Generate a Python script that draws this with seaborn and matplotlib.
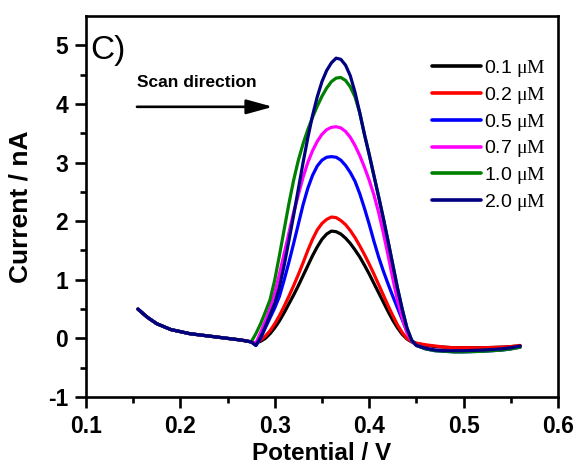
import matplotlib
matplotlib.use("Agg")
import matplotlib.pyplot as plt
import pandas as pd
import seaborn as sns

# Differential pulse voltammograms: potential (V) vs current (nA)
potential = [0.155, 0.165, 0.175, 0.19, 0.21, 0.23, 0.25, 0.265, 0.275,
             0.28, 0.285, 0.29, 0.295, 0.30, 0.305, 0.31, 0.315, 0.32, 0.325,
             0.33, 0.335, 0.34, 0.345, 0.35, 0.355, 0.36, 0.365, 0.37, 0.375,
             0.38, 0.385, 0.39, 0.395, 0.40, 0.405, 0.41, 0.415, 0.42, 0.425,
             0.43, 0.435, 0.44, 0.445, 0.45,
             0.46, 0.47, 0.48, 0.49, 0.50, 0.52, 0.54, 0.55, 0.56]

# shared pre-peak background
baseline = [0.50, 0.36, 0.25, 0.15, 0.08, 0.04, 0.0, -0.03, -0.06]

current_0_1 = baseline + [
    -0.08, -0.05, 0.00, 0.08, 0.18, 0.30, 0.44, 0.59, 0.74, 0.90,
    1.07, 1.24, 1.41, 1.56, 1.69, 1.78, 1.83, 1.82, 1.78, 1.71,
    1.62, 1.51, 1.39, 1.25, 1.10, 0.94, 0.78, 0.62, 0.46, 0.31,
    0.18, 0.07, -0.01, -0.06, -0.09,
    -0.12, -0.14, -0.15, -0.16, -0.16, -0.16, -0.15, -0.14, -0.13]
current_0_2 = baseline + [
    -0.08, -0.03, 0.04, 0.13, 0.25, 0.39, 0.55, 0.72, 0.90, 1.09,
    1.29, 1.50, 1.69, 1.85, 1.96, 2.03, 2.07, 2.06, 2.01, 1.94,
    1.84, 1.72, 1.58, 1.43, 1.27, 1.10, 0.92, 0.74, 0.56, 0.39,
    0.23, 0.10, 0.00, -0.05, -0.08,
    -0.11, -0.13, -0.15, -0.16, -0.16, -0.16, -0.15, -0.14, -0.12]
current_0_5 = baseline + [
    -0.12, 0.00, 0.18, 0.35, 0.52, 0.72, 1.00, 1.30, 1.62, 1.95,
    2.28, 2.56, 2.78, 2.94, 3.04, 3.09, 3.10, 3.09, 3.04, 2.95,
    2.83, 2.68, 2.47, 2.22, 1.95, 1.66, 1.39, 1.15, 0.93, 0.72,
    0.52, 0.32, 0.12, -0.04, -0.12,
    -0.18, -0.21, -0.22, -0.23, -0.23, -0.22, -0.20, -0.18, -0.15]
current_0_7 = baseline + [
    -0.08, 0.10, 0.30, 0.52, 0.78, 1.10, 1.45, 1.80, 2.15, 2.45,
    2.75, 3.00, 3.20, 3.36, 3.48, 3.56, 3.60, 3.61, 3.59, 3.53,
    3.43, 3.29, 3.12, 2.92, 2.70, 2.45, 2.15, 1.80, 1.42, 1.02,
    0.65, 0.35, 0.10, -0.05, -0.12,
    -0.17, -0.20, -0.21, -0.22, -0.22, -0.21, -0.19, -0.17, -0.14]
current_1_0 = baseline + [
    0.08, 0.25, 0.45, 0.66, 1.00, 1.42, 1.86, 2.30, 2.70, 3.04,
    3.32, 3.56, 3.77, 3.96, 4.13, 4.27, 4.38, 4.44, 4.45, 4.40,
    4.29, 4.12, 3.85, 3.48, 3.14, 2.78, 2.42, 2.05, 1.66, 1.26,
    0.86, 0.50, 0.18, -0.03, -0.12,
    -0.18, -0.21, -0.22, -0.23, -0.23, -0.22, -0.20, -0.18, -0.15]
current_2_0 = baseline + [
    -0.12, 0.02, 0.20, 0.40, 0.60, 0.88, 1.25, 1.67, 2.10, 2.55,
    3.00, 3.42, 3.80, 4.12, 4.38, 4.57, 4.70, 4.78, 4.76, 4.66,
    4.48, 4.20, 3.85, 3.48, 3.14, 2.78, 2.42, 2.05, 1.66, 1.26,
    0.86, 0.50, 0.18, -0.03, -0.12,
    -0.17, -0.20, -0.21, -0.21, -0.21, -0.20, -0.18, -0.16, -0.13]

concentrations = ["0.1", "0.2", "0.5", "0.7", "1.0", "2.0"]
series = [current_0_1, current_0_2, current_0_5, current_0_7, current_1_0, current_2_0]
line_colors = ["#000000", "#ff0000", "#0000ff", "#ff00ff", "#008000", "#000080"]

xtick_values = [0.1, 0.2, 0.3, 0.4, 0.5, 0.6]
xtick_labels = ["0.1", "0.2", "0.3", "0.4", "0.5", "0.6"]
ytick_values = [-1, 0, 1, 2, 3, 4, 5]
ytick_labels = ["-1", "0", "1", "2", "3", "4", "5"]

sns.set_theme(style="ticks")
plt.rcParams.update({
    "font.family": ["Liberation Sans", "DejaVu Sans"],
    "mathtext.fontset": "custom",
    "mathtext.rm": "Liberation Serif",
    "mathtext.it": "Liberation Serif:italic",
    "mathtext.bf": "Liberation Serif:bold",
    "axes.unicode_minus": False,
    "axes.edgecolor": "black",
    "axes.labelcolor": "black",
    "text.color": "black",
    "axes.linewidth": 1.9,
    "xtick.color": "black",
    "ytick.color": "black",
    "xtick.labelcolor": "black",
    "ytick.labelcolor": "black",
})

rows = []
for conc, values in zip(concentrations, series):
    label = conc + r" $\mathrm{μM}$"
    for v, i in zip(potential, values):
        rows.append({"Potential": v, "Current": i, "Concentration": label})
df = pd.DataFrame(rows)

fig = plt.figure(figsize=(5.83, 4.69), dpi=100)
ax = fig.add_axes([0.1475, 0.1535, 0.8095, 0.8125])

sns.lineplot(data=df, x="Potential", y="Current", hue="Concentration",
             palette=line_colors, sort=False, estimator=None,
             linewidth=2.3, ax=ax)

ax.set_xlim(0.1, 0.6)
ax.set_ylim(-1, 5.5)
ax.set_xticks(xtick_values)
ax.set_xticklabels(xtick_labels)
ax.set_yticks(ytick_values)
ax.set_yticklabels(ytick_labels)
ax.set_xticks([0.15, 0.25, 0.35, 0.45, 0.55], minor=True)
ax.set_yticks([-0.5, 0.5, 1.5, 2.5, 3.5, 4.5], minor=True)

ax.tick_params(which="major", direction="out", length=8, width=1.9,
               labelsize=16.5, pad=5, colors="black")
ax.tick_params(which="minor", direction="out", length=4.5, width=1.9,
               colors="black")
ax.tick_params(top=False, right=False, which="both")
for lbl in ax.get_xticklabels() + ax.get_yticklabels():
    lbl.set_fontweight("bold")

ax.set_xlabel("Potential / V", fontsize=17.5, fontweight="bold", labelpad=3,
              color="black")
ax.set_ylabel("Current / nA", fontsize=19, fontweight="bold", labelpad=11,
              color="black")

ax.text(0.01, 0.95, "C)", transform=ax.transAxes, fontsize=24,
        ha="left", va="top", color="black")

ax.text(0.154, 4.37, "Scan direction", fontsize=12.5, fontweight="bold",
        ha="left", va="center", color="black")
ax.annotate("", xy=(0.298, 3.95), xytext=(0.154, 3.95),
            arrowprops=dict(arrowstyle="-|>,head_length=0.8,head_width=0.22",
                            lw=1.9, color="black", mutation_scale=20,
                            shrinkA=0, shrinkB=0))

leg = ax.legend(loc="upper left", bbox_to_anchor=(0.733, 0.89),
                frameon=False, fontsize=14, handlelength=2.5,
                handletextpad=0.2, labelspacing=0.3, borderaxespad=0,
                borderpad=0)
for text in leg.get_texts():
    text.set_color("black")
for line in leg.get_lines():
    line.set_linewidth(2.6)

fig.savefig("out.png", dpi=100)
